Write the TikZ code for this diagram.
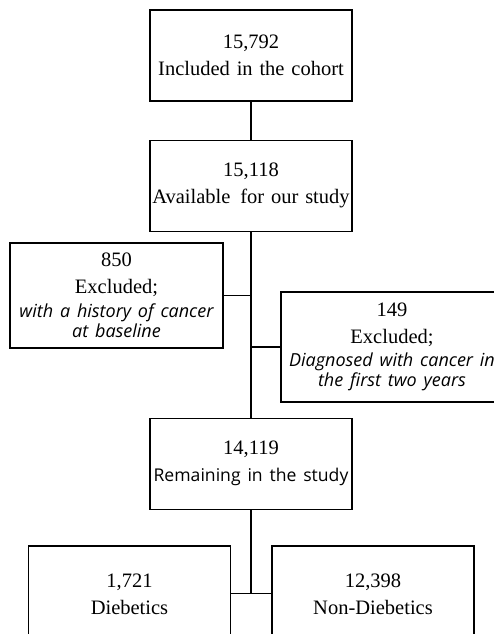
\documentclass[tikz,border=0pt]{standalone}
\usepackage{fontspec}
\setmainfont{Liberation Serif}
\newfontfamily\opensans{Open Sans}
\usetikzlibrary{positioning}
% testo delle note di esclusione
\newcommand{\nota}{\opensans\itshape\fontsize{18}{20.5}\selectfont}

\begin{document}
\begin{tikzpicture}[x=1pt, y=-1pt, line width=1.1pt, node distance=38pt,
    main/.style = {draw, rectangle, inner sep=0pt, minimum width=202pt, minimum height=91pt,
                   text width=200pt, align=center, font=\fontsize{20.5}{27}\selectfont},
    side/.style = {main, minimum height=108pt}]
    \path[use as bounding box, clip] (0,0) rectangle (494,634);

    % Nodi della colonna principale
    \node[main] (cohort) at (251,55.5) {15,792\\Included in the cohort};
    \node[main] (avail) [below=of cohort] {15,118\\Available\hspace{3pt} for our study};
    \node[main] (remain) [below=186pt of avail] {14,119\\{\opensans\fontsize{17.6}{27}\selectfont Remaining in the study}};
    \coordinate[below=84pt of remain] (split);

    % Esclusioni
    \node[side, minimum width=213pt, minimum height=105pt, text width=211pt] (excl1) at (116.5,295.5)
        {850\\Excluded;\par\vspace{3pt}{\nota with a history of cancer\\at baseline\par}};
    \node[side, minimum width=222pt, minimum height=110pt, text width=220pt] (excl2) at (392,347)
        {149\\Excluded;\par\vspace{2pt}{\nota Diagnosed with cancer in\\the first two years\par}};

    % Gruppi finali
    \node[main, minimum height=96pt] (diab) at (129.5,594) {1,721\\Diebetics};
    \node[main, minimum height=96pt] (nondiab) at (373,594) {12,398\\Non-Diebetics};

    % Collegamenti
    \draw (cohort) -- (avail);
    \draw (avail) -- (remain);
    \draw (excl1.east) -- (excl1.east -| avail.south);
    \draw (excl2.west) -- (excl2.west -| avail.south);
    \draw (remain) -- (split);
    \draw (split -| diab.east) -- (split -| nondiab.west);

\end{tikzpicture}
\end{document}
